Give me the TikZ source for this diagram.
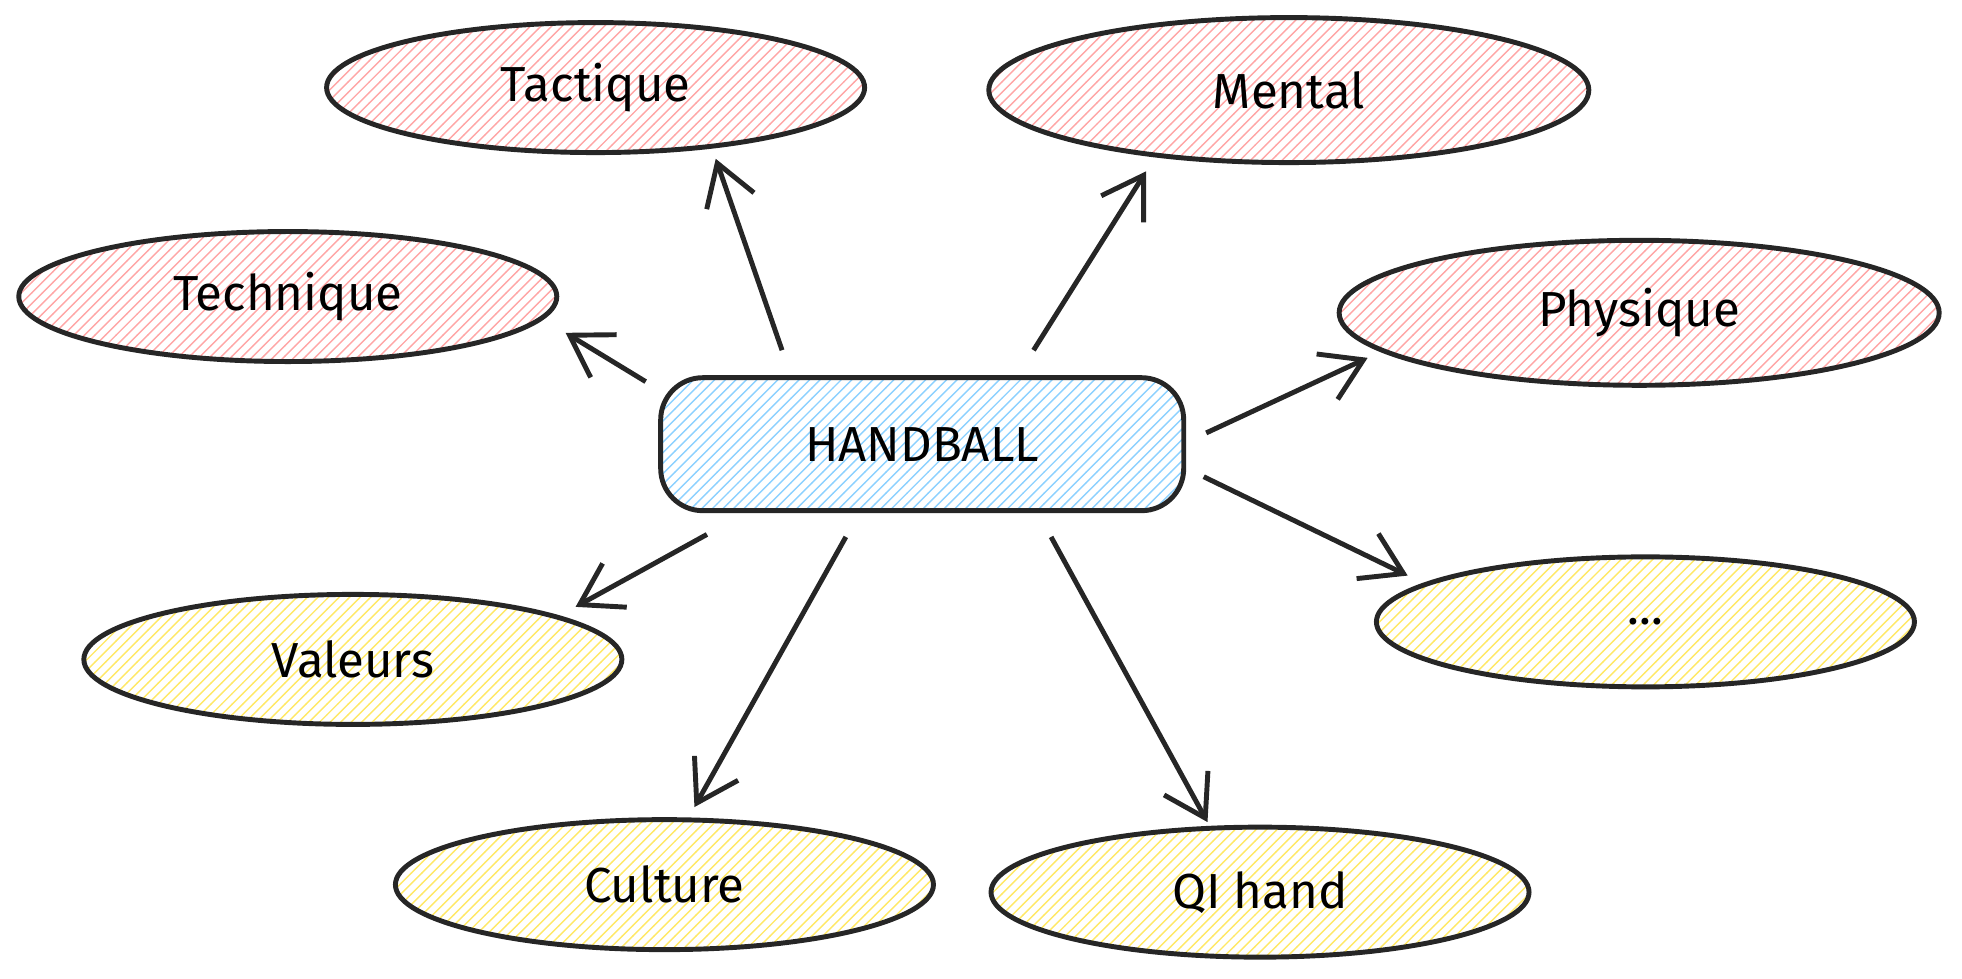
\documentclass[tikz,border=0pt]{standalone}
\usepackage{fontspec}
\setmainfont{Fira Sans}
\usetikzlibrary{shapes.geometric, arrows.meta, patterns, calc}

\begin{document}
\begin{tikzpicture}[
    x=0.012513cm, y=-0.012513cm,
    % Bubbles
    bubble/.style={ellipse, draw=black!85, line width=1.4pt, font=\fontsize{14}{16}\selectfont, minimum width=5.38cm, minimum height=1.3cm},
    redbubble/.style={bubble, pattern=north east lines, pattern color=red!35},
    yellowbubble/.style={bubble, pattern=north east lines, pattern color=yellow!70!orange!60},
    % Centre box
    centre/.style={rectangle, rounded corners=12pt, draw=black!85, line width=1.4pt, pattern=north east lines, pattern color=cyan!60!blue!45, minimum width=5.23cm, minimum height=1.33cm, font=\fontsize{14}{16}\selectfont},
    link/.style={-{Straight Barb[length=4mm,width=5mm]}, line width=1.4pt, draw=black!85}
]
    \useasboundingbox (0,0) rectangle (1568,782);

    % Centre
    \node[centre] (hand) at (737,355) {HANDBALL};

    % Red bubbles
    \node[redbubble] (tac) at (476,70) {Tactique};
    \node[redbubble, minimum width=6cm, minimum height=1.45cm] (men) at (1030,72) {Mental};
    \node[redbubble] (tec) at (230,237) {Technique};
    \node[redbubble, minimum width=6cm, minimum height=1.45cm] (phy) at (1310,250) {Physique};

    % Yellow bubbles
    \node[yellowbubble] (val) at (282,527) {Valeurs};
    \node[yellowbubble] (etc) at (1315,497) {...};
    \node[yellowbubble] (cul) at (531,707) {Culture};
    \node[yellowbubble] (qi) at (1007,713) {QI hand};

    % Links
    \draw[link] ($(hand.north)+(-112,-20)$) -- ($(tac.south)+(96,3)$);
    \draw[link] ($(hand.north)+(89,-20)$) -- ($(men.south)+(-114,5)$);
    \draw[link] ($(hand.west)+(-10,-50)$) -- ($(tec.center)+(222,29)$);
    \draw[link] ($(hand.east)+(16,-9)$) -- ($(phy.center)+(-217,36)$);
    \draw[link] ($(hand.south)+(-172,17)$) -- ($(val.center)+(178,-42)$);
    \draw[link] ($(hand.east)+(14,26)$) -- ($(etc.center)+(-190,-37)$);
    \draw[link] ($(hand.south)+(-61,19)$) -- ($(cul.center)+(24,-62)$);
    \draw[link] ($(hand.south)+(103,19)$) -- ($(qi.center)+(-42,-56)$);
\end{tikzpicture}
\end{document}
